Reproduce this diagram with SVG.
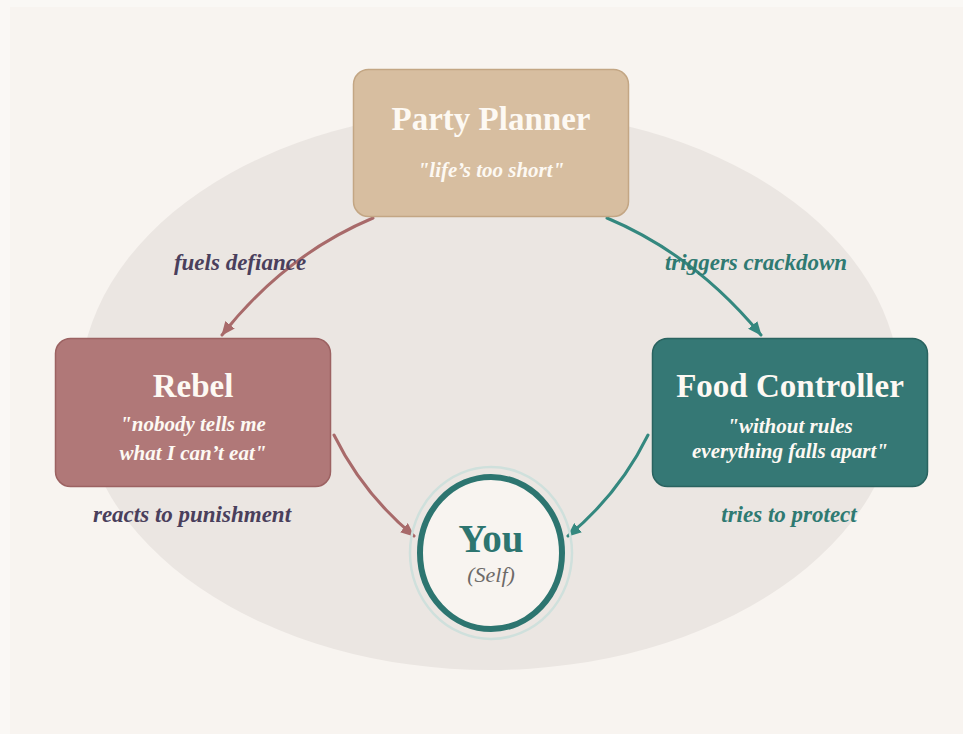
<svg xmlns="http://www.w3.org/2000/svg" width="963" height="734" viewBox="0 0 963 734">
  <style>
    .title { font-family: "Liberation Serif", "Times New Roman", serif; font-weight: bold; font-size: 33px; fill: #fdf9f3; text-anchor: middle; }
    .quote { font-family: "Liberation Serif", "Times New Roman", serif; font-style: italic; font-weight: bold; font-size: 21px; fill: #fdf9f3; text-anchor: middle; }
    .lbl { font-family: "Liberation Serif", "Times New Roman", serif; font-style: italic; font-weight: bold; font-size: 23px; text-anchor: middle; }
    .purple { fill: #4a3f5c; }
    .teal { fill: #2f7a72; }
    .edge { fill: none; stroke-width: 3; stroke-linecap: round; }
    .rose { stroke: #a86a6a; }
    .tealline { stroke: #34887f; }
  </style>
  <defs>
    <marker id="arrRose" viewBox="0 0 14 12" refX="13" refY="6" markerWidth="14" markerHeight="12" markerUnits="userSpaceOnUse" orient="auto">
      <path d="M0,0 L14,6 L0,12 Z" fill="#a86a6a"/>
    </marker>
    <marker id="arrTeal" viewBox="0 0 14 12" refX="13" refY="6" markerWidth="14" markerHeight="12" markerUnits="userSpaceOnUse" orient="auto">
      <path d="M0,0 L14,6 L0,12 Z" fill="#34887f"/>
    </marker>
  </defs>

  <rect x="0" y="0" width="963" height="734" fill="#faf8f5"/>
  <rect x="10" y="7" width="960" height="740" fill="#f8f4f0"/>
  <ellipse cx="490" cy="390" rx="410" ry="280" fill="#ebe6e2"/>

  <g id="connectors">
    <path class="edge rose" d="M373,218 Q285,255 222,335" marker-end="url(#arrRose)"/>
    <path class="edge tealline" d="M607,218 Q695,255 761,335" marker-end="url(#arrTeal)"/>
    <path class="edge rose" d="M334,435 Q363,494 414,536" marker-end="url(#arrRose)"/>
    <path class="edge tealline" d="M648,435 Q619,494 568,536" marker-end="url(#arrTeal)"/>
    <text class="lbl purple" x="240" y="270">fuels defiance</text>
    <text class="lbl teal" x="756" y="270">triggers crackdown</text>
    <text class="lbl purple" x="192" y="522">reacts to punishment</text>
    <text class="lbl teal" x="789" y="522">tries to protect</text>
  </g>

  <g id="party-planner">
    <rect x="353.5" y="69.5" width="275" height="147" rx="15" fill="#d7bea0" stroke="#c3a684" stroke-width="1.5"/>
    <text class="title" x="491" y="130">Party Planner</text>
    <text class="quote" x="491" y="177">"life’s too short"</text>
  </g>

  <g id="rebel">
    <rect x="55.5" y="338.5" width="275" height="148" rx="15" fill="#b07878" stroke="#9c6262" stroke-width="1.5"/>
    <text class="title" x="193" y="397">Rebel</text>
    <text class="quote" x="193" y="431">"nobody tells me</text>
    <text class="quote" x="193" y="460">what I can’t eat"</text>
  </g>

  <g id="food-controller">
    <rect x="652.5" y="338.5" width="275" height="148" rx="15" fill="#357875" stroke="#2a6360" stroke-width="1.5"/>
    <text class="title" x="790" y="397">Food Controller</text>
    <text class="quote" x="790" y="433">"without rules</text>
    <text class="quote" x="790" y="458">everything falls apart"</text>
  </g>

  <g id="you">
    <ellipse cx="491" cy="553" rx="81" ry="86" fill="none" stroke="#cfe0dc" stroke-width="2.5"/>
    <ellipse cx="491" cy="553" rx="71" ry="76" fill="#f8f4f0" stroke="#2d7570" stroke-width="6"/>
    <text x="491" y="552" font-family="Liberation Serif, Times New Roman, serif" font-weight="bold" font-size="39" fill="#2d7570" text-anchor="middle">You</text>
    <text x="491" y="582" font-family="Liberation Serif, Times New Roman, serif" font-style="italic" font-size="22" fill="#6e6a68" text-anchor="middle">(Self)</text>
  </g>
</svg>
